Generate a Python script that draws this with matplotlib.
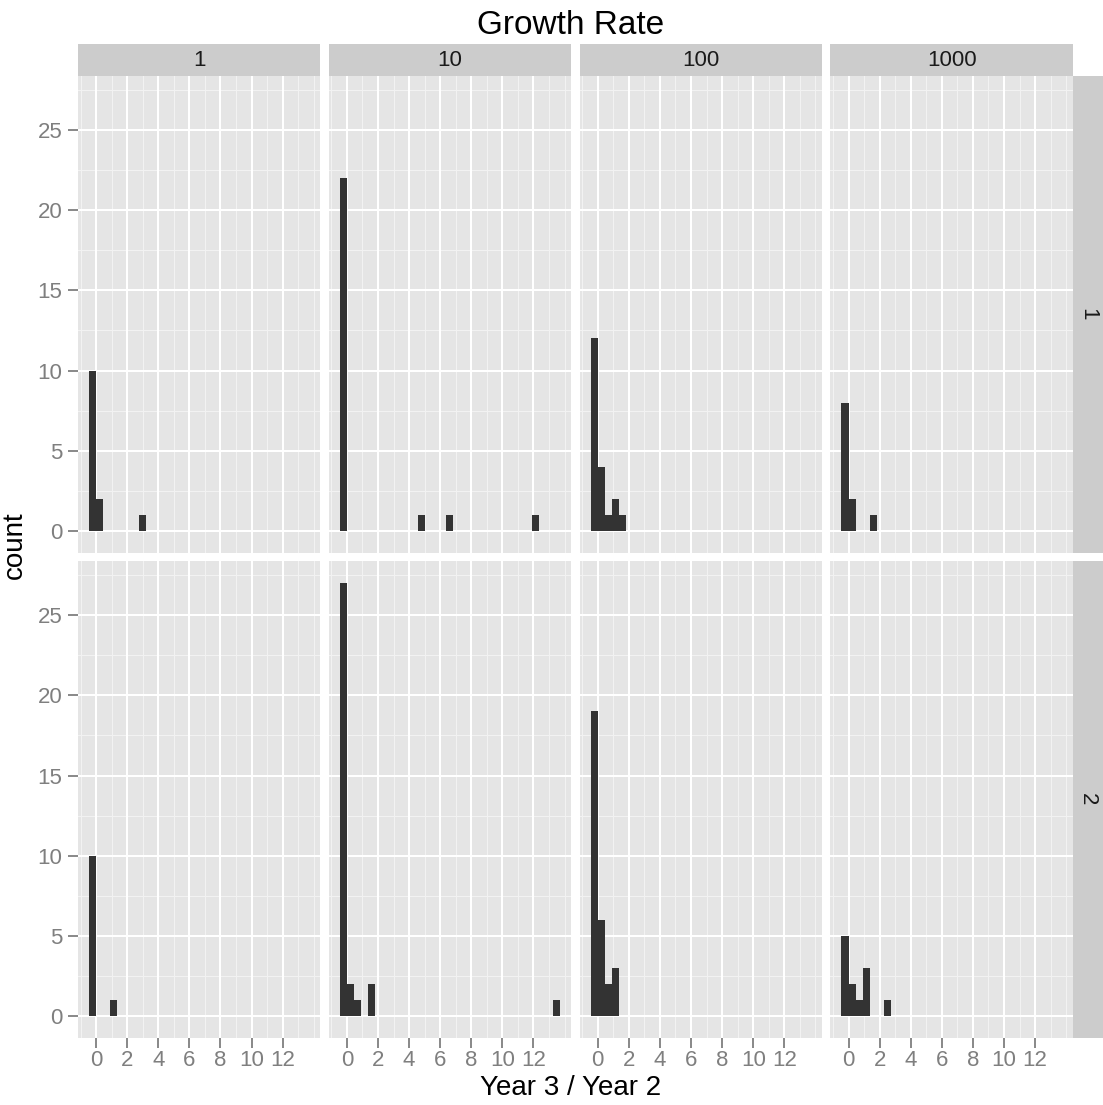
import numpy as np
import matplotlib
matplotlib.use("Agg")
import matplotlib.pyplot as plt

plt.rcParams['font.family'] = ['Liberation Sans', 'DejaVu Sans']

# ---- data ----
title = "Growth Rate"
x_label = "Year 3 / Year 2"
y_label = "count"
col_labels = ["1", "10", "100", "1000"]
row_labels = ["1", "2"]
binwidth = 0.457          # histogram bin width (range / 30)
x_data_range = [-0.457, 13.71]
y_data_range = [0, 27]

# bins are indexed k: bin covers [k*binwidth, (k+1)*binwidth]
bins_r1 = [[-1, 0, 6], [-1, 10, 14, 26], [-1, 0, 1, 2, 3], [-1, 0, 3]]
counts_r1 = [[10, 2, 1], [22, 1, 1, 1], [12, 4, 1, 2, 1], [8, 2, 1]]
bins_r2 = [[-1, 2], [-1, 0, 1, 3, 29], [-1, 0, 1, 2], [-1, 0, 1, 2, 5]]
counts_r2 = [[10, 1], [27, 2, 1, 2, 1], [19, 6, 2, 3], [5, 2, 1, 3, 1]]
bins_all = [bins_r1, bins_r2]
counts_all = [counts_r1, counts_r2]

x_major = [0, 2, 4, 6, 8, 10, 12]
x_minor = [-1, 1, 3, 5, 7, 9, 11, 13, 14]
y_major = [0, 5, 10, 15, 20, 25]
y_minor = [2.5, 7.5, 12.5, 17.5, 22.5, 27.5]

# ---- layout (pixels) ----
W, H = 1103, 1105
fig = plt.figure(figsize=(W / 100, H / 100), dpi=100)

def box(x, y, w, h):
    return [x / W, 1 - (y + h) / H, w / W, h / H]

panel_left = 78.0
panel_right = 1072.7
gap = 8.6
pw = (panel_right - panel_left - 3 * gap) / 4
row_tops = [76.0, 561.3]
ph = 476.7
strip_top = 44.0
strip_h = 32.0
rstrip_w = 30.3

dx = x_data_range[1] - x_data_range[0]
dy = y_data_range[1] - y_data_range[0]
xlim = (x_data_range[0] - 0.05 * dx, x_data_range[1] + 0.05 * dx)
ylim = (y_data_range[0] - 0.05 * dy, y_data_range[1] + 0.05 * dy)

tick_color = '#7F7F7F'
for r in range(2):
    for c in range(4):
        x0 = panel_left + c * (pw + gap)
        ax = fig.add_axes(box(x0, row_tops[r], pw, ph))
        ax.set_facecolor('#E5E5E5')
        for s in ax.spines.values():
            s.set_visible(False)
        ax.set_xlim(*xlim)
        ax.set_ylim(*ylim)
        for v in x_minor:
            ax.axvline(v, color='#F2F2F2', lw=0.75, zorder=0.5)
        for v in y_minor:
            ax.axhline(v, color='#F2F2F2', lw=0.75, zorder=0.5)
        for v in x_major:
            ax.axvline(v, color='white', lw=1.45, zorder=0.6)
        for v in y_major:
            ax.axhline(v, color='white', lw=1.45, zorder=0.6)
        lefts = np.array(bins_all[r][c]) * binwidth
        ax.bar(lefts, counts_all[r][c], width=binwidth, align='edge',
               color='#333333', edgecolor='none', zorder=2)
        ax.set_xticks(x_major)
        ax.set_yticks(y_major)
        ax.tick_params(axis='both', length=7.2, width=1.3, color=tick_color,
                       labelcolor=tick_color, labelsize=16)
        ax.tick_params(axis='x', pad=1.5)
        ax.tick_params(axis='y', pad=4)
        if c != 0:
            ax.tick_params(axis='y', left=False, labelleft=False)
        if r != 1:
            ax.tick_params(axis='x', bottom=False, labelbottom=False)
        # top strip
        if r == 0:
            sax = fig.add_axes(box(x0, strip_top, pw, strip_h))
            sax.set_facecolor('#CCCCCC')
            sax.set_xticks([]); sax.set_yticks([])
            for s in sax.spines.values():
                s.set_visible(False)
            sax.text(0.5, 0.5, col_labels[c], ha='center', va='center',
                     fontsize=16, color='#1A1A1A', transform=sax.transAxes)
    # right strip
    rax = fig.add_axes(box(panel_right, row_tops[r], rstrip_w, ph))
    rax.set_facecolor('#CCCCCC')
    rax.set_xticks([]); rax.set_yticks([])
    for s in rax.spines.values():
        s.set_visible(False)
    rax.text(0.5, 0.5, row_labels[r], ha='center', va='center', rotation=-90,
             fontsize=16, color='#1A1A1A', transform=rax.transAxes)

fig.text(571 / W, 1 - 25 / H, title, ha='center', va='center', fontsize=24)
fig.text(571 / W, 1 - 1088 / H, x_label, ha='center', va='center', fontsize=20)
fig.text(15 / W, 1 - 545 / H, y_label, ha='center', va='center', rotation=90,
         fontsize=20)

fig.savefig('out.png', dpi=100, facecolor='white')
